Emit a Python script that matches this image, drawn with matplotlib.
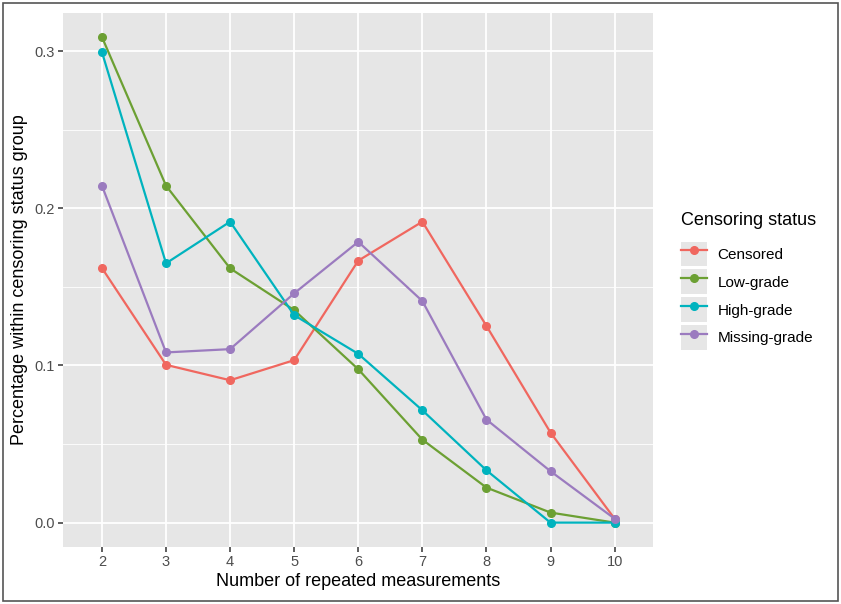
import matplotlib
matplotlib.use("Agg")
import matplotlib.pyplot as plt
from matplotlib.patches import Rectangle
from matplotlib.lines import Line2D
from matplotlib.legend_handler import HandlerTuple
from matplotlib.ticker import MultipleLocator, FormatStrFormatter

plt.rcParams['font.family'] = ['Liberation Sans', 'DejaVu Sans']

measurements = [2, 3, 4, 5, 6, 7, 8, 9, 10]
censored = [0.162, 0.1004, 0.0906, 0.1034, 0.1667, 0.1915, 0.1252, 0.0573, 0.0025]
low_grade = [0.309, 0.2144, 0.1618, 0.1352, 0.0976, 0.0528, 0.0223, 0.0064, 0.0]
high_grade = [0.2994, 0.165, 0.1915, 0.132, 0.1074, 0.0715, 0.0333, 0.0, 0.0]
missing_grade = [0.2144, 0.1083, 0.1104, 0.1459, 0.1787, 0.141, 0.0656, 0.0327, 0.0025]

series = [("Censored", censored, "#F0675F"),
          ("Low-grade", low_grade, "#6CA033"),
          ("High-grade", high_grade, "#00B3BE"),
          ("Missing-grade", missing_grade, "#9B7BBF")]

panel = "#E6E6E6"

fig = plt.figure(figsize=(8.41, 6.04), dpi=100)
ax = fig.add_axes([0.0755, 0.0944, 0.701, 0.8846])
ax.set_facecolor(panel)

handles = []
for name, vals, col in series:
    ax.plot(measurements, vals, color=col, lw=1.6, marker='o', ms=5.5, zorder=3)
    key_bg = Rectangle((0, 0), 1, 1, facecolor=panel, edgecolor='none')
    key_line = Line2D([], [], color=col, lw=1.6, marker='o', ms=5.5)
    handles.append((key_bg, key_line))

ax.set_xlim(1.4, 10.6)
ax.set_ylim(-0.0155, 0.3245)
ax.set_xticks(measurements)
ax.yaxis.set_major_locator(MultipleLocator(0.1))
ax.yaxis.set_minor_locator(MultipleLocator(0.05))
ax.yaxis.set_major_formatter(FormatStrFormatter('%.1f'))

ax.grid(which='major', color='white', lw=1.3, zorder=0)
ax.grid(which='minor', axis='y', color='white', lw=0.6, zorder=0)
ax.set_axisbelow(True)
for s in ax.spines.values():
    s.set_visible(False)
ax.tick_params(which='major', length=3.5, width=1.1, color='#333333',
               labelcolor='#4D4D4D', labelsize=10.5, pad=2.5)
ax.tick_params(which='minor', length=0)

ax.set_xlabel("Number of repeated measurements", fontsize=13, labelpad=3)
ax.set_ylabel("Percentage within censoring status group", fontsize=13, labelpad=5)

leg = ax.legend(handles, [s[0] for s in series], title="Censoring status",
                handler_map={tuple: HandlerTuple(ndivide=1, pad=0)},
                loc='upper left', bbox_to_anchor=(0.8095, 0.649),
                bbox_transform=fig.transFigure, frameon=False,
                fontsize=11, title_fontsize=13,
                handlelength=1.7, handleheight=2.1, labelspacing=0.22,
                handletextpad=0.7, borderaxespad=0, borderpad=0)
leg._legend_box.align = "left"
leg._legend_box.sep = 9

fig.patches.append(Rectangle((0.004, 0.005), 0.992, 0.99, transform=fig.transFigure,
                             fill=False, edgecolor='#555555', lw=1.2))

fig.savefig("out.png", dpi=100)
